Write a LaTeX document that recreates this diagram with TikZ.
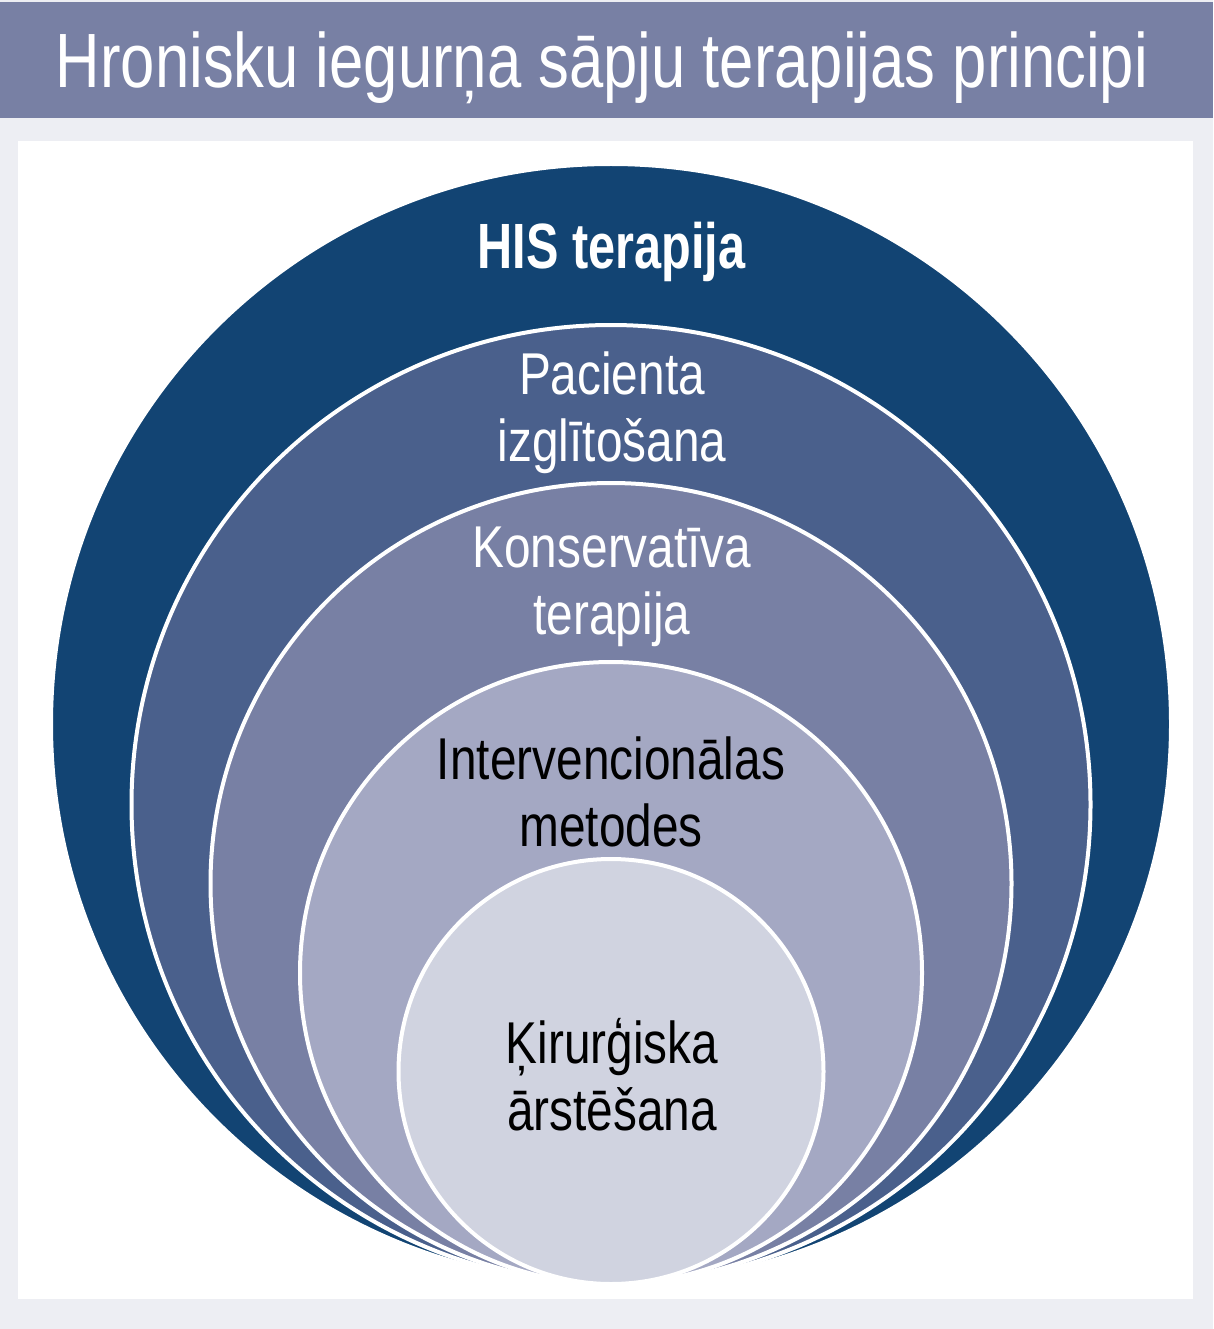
\documentclass[tikz,border=0pt]{standalone}
\usepackage{fontspec}
\setmainfont{Liberation Sans}
\newfontfamily\titlefont[FakeStretch=0.80]{Liberation Sans}
\newfontfamily\ringfont[FakeStretch=0.81]{Liberation Sans}
\newfontfamily\hisfont[FakeStretch=0.76]{Liberation Sans}

\definecolor{pagebg}{HTML}{EDEEF3}
\definecolor{titlebar}{HTML}{7880A4}
\definecolor{ringA}{HTML}{124473}
\definecolor{ringB}{HTML}{4A608C}
\definecolor{ringC}{HTML}{7880A4}
\definecolor{ringD}{HTML}{A4A8C3}
\definecolor{ringE}{HTML}{D0D3E0}

\tikzset{
    ring/.style={fill=#1,draw=white,line width=4pt},
    ringtext/.style={font=\ringfont\fontsize{59}{67}\selectfont,align=center,anchor=base,inner sep=0pt}
}

\begin{document}
\begin{tikzpicture}[x=1pt,y=-1pt]
        \useasboundingbox (0,0) rectangle (1213,1329);

        %%%%%%%%% Sfondo %%%%%%%%%
        \fill[pagebg] (0,0) rectangle (1213,1329);
        \fill[titlebar] (0,2) rectangle (1213,118);
        \fill[white] (18,141) rectangle (1193,1299);

        %%%%%%%%% Titolo %%%%%%%%%
        \node[anchor=base,inner sep=0pt,text=white,font=\titlefont\fontsize{77}{80}\selectfont] (title) at (602,88) {Hronisku iegurņa sāpju terapijas principi};

        %%%%%%%%% Cerchi %%%%%%%%%
        \filldraw[ring=ringA] (611,724) circle[radius=560pt];
        \filldraw[ring=ringB] (611,804.5) circle[radius=479.5pt];
        \filldraw[ring=ringC] (611,883.5) circle[radius=400.5pt];
        \filldraw[ring=ringD] (611,973) circle[radius=311pt];
        \filldraw[ring=ringE] (611,1071.5) circle[radius=212.5pt];

        %%%%%%%%% Testi %%%%%%%%%%
        \node[anchor=base,inner sep=0pt,text=white,font=\hisfont\bfseries\fontsize{64}{70}\selectfont] (his) at (611.5,269) {HIS terapija};
        \node[ringtext,text=white] (pacienta) at (612,461) {Pacienta\\izglītošana};
        \node[ringtext,text=white] (konserv) at (612,634) {Konservatīva\\terapija};
        \node[ringtext,text=black] (interv) at (611,846) {Intervencionālas\\metodes};
        \node[ringtext,text=black] (kirurg) at (612,1130) {Ķirurģiska\\ārstēšana};
    \end{tikzpicture}
\end{document}
